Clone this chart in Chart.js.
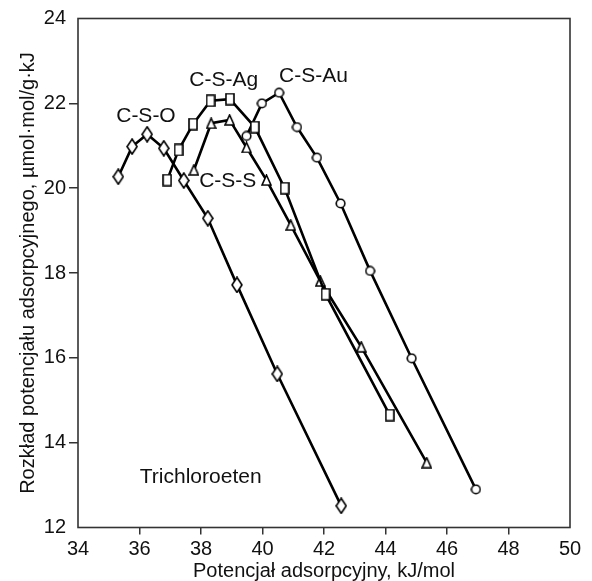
<!DOCTYPE html>
<html><head><meta charset="utf-8">
<script src="https://cdn.jsdelivr.net/npm/chart.js@4"></script>
<style>html,body{margin:0;padding:0;background:#fff}#wrap{width:592px;height:581px}</style>
</head><body><div id="wrap"><canvas id="c" width="592" height="581"></canvas></div>
<script>
// Data
const csoX = [35.31, 35.76, 36.25, 36.79, 37.44, 38.22, 39.17, 40.48, 42.56];
const csoY = [20.27, 20.98, 21.27, 20.94, 20.18, 19.29, 17.72, 15.62, 12.51];
const csagX = [36.90, 37.27, 37.74, 38.31, 38.94, 39.75, 40.72, 42.05, 44.14];
const csagY = [20.19, 20.90, 21.51, 22.06, 22.10, 21.44, 20.00, 17.50, 14.65];
const cssX = [37.77, 38.33, 38.93, 39.48, 40.13, 40.92, 41.88, 43.21, 45.34];
const cssY = [20.43, 21.53, 21.61, 20.96, 20.19, 19.13, 17.81, 16.26, 13.53];
const csauX = [39.48, 39.98, 40.54, 41.12, 41.77, 42.54, 43.50, 44.85, 46.94];
const csauY = [21.23, 22.00, 22.25, 21.44, 20.72, 19.64, 18.05, 15.99, 12.90];
const seriesNames = ['C-S-O', 'C-S-Ag', 'C-S-S', 'C-S-Au'];
const xTicks = [34, 36, 38, 40, 42, 44, 46, 48, 50];
const yTicks = [12, 14, 16, 18, 20, 22, 24];
const xTitle = 'Potencjał adsorpcyjny, kJ/mol';
const yTitle = 'Rozkład potencjału adsorpcyjnego, µmol·mol/g·kJ';
const noteText = 'Trichloroeten';

// label placement (data coordinates)
const textLabels = [
  {t: seriesNames[0], x: 36.21, y: 21.70},
  {t: seriesNames[1], x: 38.74, y: 22.54},
  {t: seriesNames[3], x: 41.66, y: 22.64},
  {t: seriesNames[2], x: 38.87, y: 20.17},
  {t: noteText, x: 37.99, y: 13.19}
];

const FONT = '"Liberation Sans", Arial, sans-serif';

function mk(w, h, draw) {
  const c = document.createElement('canvas');
  c.width = w; c.height = h;
  const g = c.getContext('2d');
  g.fillStyle = '#fff'; g.strokeStyle = '#000'; g.lineWidth = 1.6;
  draw(g, w, h);
  return c;
}
const diamond = mk(12, 17, g => { g.beginPath(); g.moveTo(6, 1); g.lineTo(11, 8.5); g.lineTo(6, 16); g.lineTo(1, 8.5); g.closePath(); g.fill(); g.stroke(); });
const square = mk(10, 13, g => { g.beginPath(); g.rect(1, 1, 8, 11); g.fill(); g.stroke(); });
const circle = mk(11, 11, g => { g.beginPath(); g.arc(5.5, 5.5, 4.3, 0, Math.PI * 2); g.fill(); g.stroke(); });
const triangle = mk(11, 12, g => { g.beginPath(); g.moveTo(5.5, 1); g.lineTo(10, 11); g.lineTo(1, 11); g.closePath(); g.fill(); g.stroke(); });

function pts(xs, ys) { return xs.map((x, i) => ({x, y: ys[i]})); }
function ds(label, xs, ys, style) {
  return {label, data: pts(xs, ys), borderColor: '#000', borderWidth: 2.6, pointStyle: style,
    backgroundColor: '#fff', pointRadius: 5, showLine: true, tension: 0};
}

const framePlugin = {
  id: 'frame',
  afterDraw(chart) {
    const {ctx, chartArea: a, scales} = chart;
    ctx.save();
    ctx.strokeStyle = '#333'; ctx.lineWidth = 1.6;
    ctx.strokeRect(a.left, a.top, a.right - a.left, a.bottom - a.top);
    ctx.fillStyle = '#111';
    ctx.font = '21px ' + FONT;
    ctx.textAlign = 'center'; ctx.textBaseline = 'middle';
    textLabels.forEach(l => {
      ctx.fillText(l.t, scales.x.getPixelForValue(l.x), scales.y.getPixelForValue(l.y));
    });
    ctx.restore();
  }
};

const tickColor = (ctx, n) => (ctx.index === 0 || ctx.index === n - 1) ? 'rgba(0,0,0,0)' : '#333';

new Chart(document.getElementById('c'), {
  type: 'scatter',
  data: {datasets: [
    ds(seriesNames[0], csoX, csoY, diamond),
    ds(seriesNames[1], csagX, csagY, square),
    ds(seriesNames[2], cssX, cssY, triangle),
    ds(seriesNames[3], csauX, csauY, circle)
  ]},
  options: {
    responsive: false, animation: false, events: [],
    layout: {padding: {left: 0, right: 22, top: 18.5, bottom: 0}},
    plugins: {legend: {display: false}, tooltip: {enabled: false}},
    scales: {
      x: {
        type: 'linear', min: 34, max: 50,
        afterBuildTicks: s => { s.ticks = xTicks.map(v => ({value: v})); },
        afterFit: s => { s.height = 581 - 527.5; },
        border: {display: false},
        grid: {drawOnChartArea: false, drawTicks: true, tickLength: 7, lineWidth: 1.5,
          color: c => tickColor(c, xTicks.length)},
        ticks: {color: '#111', padding: 3, maxRotation: 0, font: {family: FONT, size: 20}},
        title: {display: true, text: xTitle, color: '#111', padding: {top: 0, bottom: -2},
          font: {family: FONT, size: 20}}
      },
      y: {
        type: 'linear', min: 12, max: 24,
        afterBuildTicks: s => { s.ticks = yTicks.map(v => ({value: v})); },
        afterFit: s => { s.width = 78; },
        border: {display: false},
        grid: {drawOnChartArea: false, drawTicks: true, tickLength: 9, lineWidth: 1.5,
          color: c => tickColor(c, yTicks.length)},
        ticks: {color: '#111', padding: 3, font: {family: FONT, size: 20}},
        title: {display: true, text: yTitle, color: '#111', padding: {top: 16, bottom: 0},
          font: {family: FONT, size: 20}}
      }
    }
  },
  plugins: [framePlugin]
});
</script></body></html>
